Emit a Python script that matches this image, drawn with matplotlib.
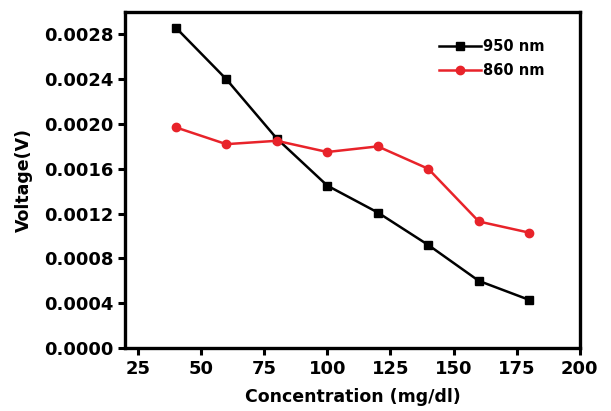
import matplotlib
matplotlib.use("Agg")
import matplotlib.pyplot as plt

conc = [40, 60, 80, 100, 120, 140, 160, 180]
v_950 = [0.00286, 0.00240, 0.00187, 0.00145, 0.00121, 0.00092, 0.00060, 0.00043]
v_860 = [0.00197, 0.00182, 0.00185, 0.00175, 0.00180, 0.00160, 0.00113, 0.00103]
xticks = [25, 50, 75, 100, 125, 150, 175, 200]
yticks = [0.0, 0.0004, 0.0008, 0.0012, 0.0016, 0.0020, 0.0024, 0.0028]

plt.rcParams['font.family'] = ['DejaVu Sans']
plt.rcParams['font.weight'] = 'bold'


def main():
    fig = plt.figure(figsize=(6.11, 4.11), dpi=100)
    ax = fig.add_axes([0.205, 0.153, 0.744, 0.818])

    ax.plot(conc, v_950, color='black', marker='s', markersize=5.5, linewidth=1.8, label='950 nm')
    ax.plot(conc, v_860, color='#e8232a', marker='o', markersize=6, linewidth=1.8, label='860 nm')

    ax.set_xlim(20, 200)
    ax.set_ylim(0, 0.003)
    ax.set_xticks(xticks)
    ax.set_yticks(yticks)
    ax.set_yticklabels(["%.4f" % y for y in yticks])
    ax.tick_params(direction='out', width=2.2, length=5, labelsize=13)
    for sp in ax.spines.values():
        sp.set_linewidth(2.4)

    ax.set_xlabel("Concentration (mg/dl)", fontsize=12.5, fontweight='bold', labelpad=7)
    ax.set_ylabel("Voltage(V)", fontsize=12.5, fontweight='bold', labelpad=8)

    ax.legend(loc='upper left', bbox_to_anchor=(0.69, 0.92), frameon=False,
              fontsize=10.5, handlelength=2.9, handletextpad=0.15,
              labelspacing=0.65, borderaxespad=0, borderpad=0)

    fig.savefig("out.png", dpi=100)


if __name__ == "__main__":
    main()
